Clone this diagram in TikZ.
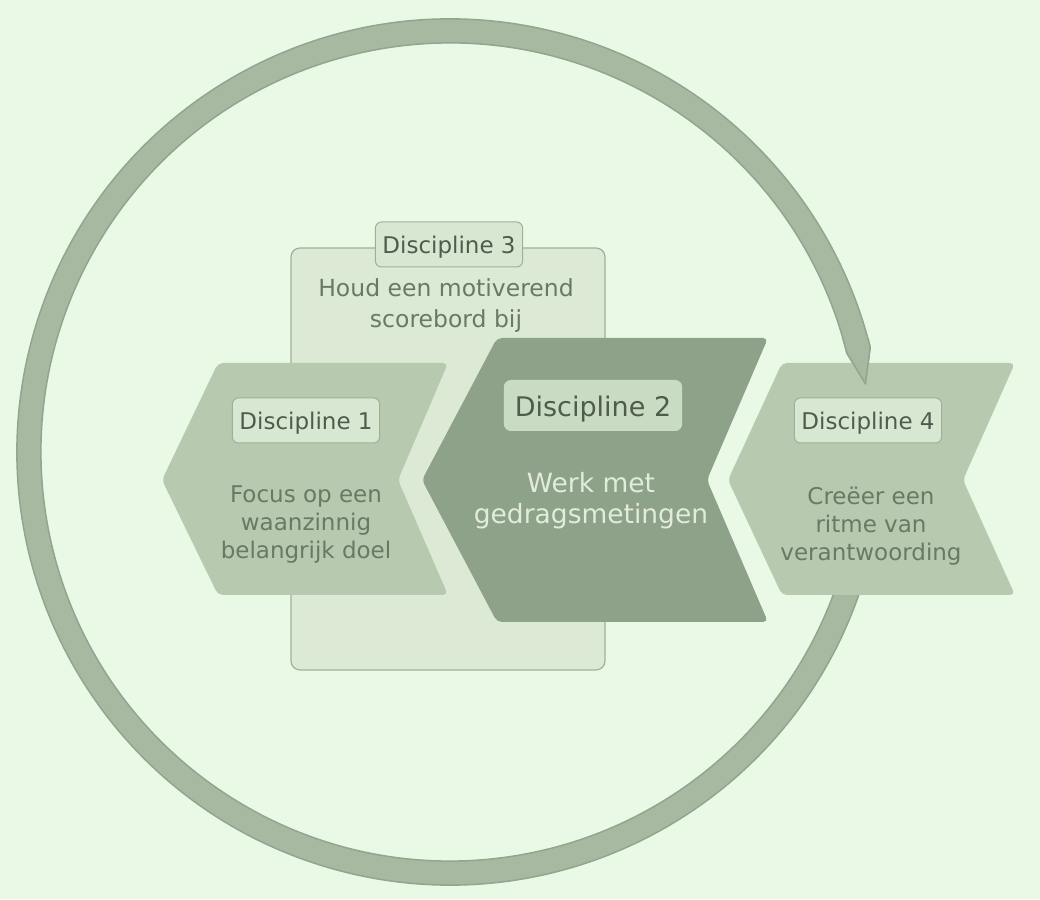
\documentclass[tikz,border=0pt]{standalone}
\usepackage{fontspec}
\setmainfont{DejaVu Sans}
\definecolor{bg}{HTML}{E9F9E6}
\definecolor{chev}{HTML}{B7C9AF}
\definecolor{chevdark}{HTML}{8EA189}
\definecolor{boxfill}{HTML}{DBE9D5}
\definecolor{boxline}{HTML}{A3B09E}
\definecolor{lblfill}{HTML}{D8E7D2}
\definecolor{lblline}{HTML}{A0AE9A}
\definecolor{lbltext}{HTML}{4F5B4C}
\definecolor{bodytext}{HTML}{6A7966}
\definecolor{ringfill}{HTML}{A7B9A1}
\definecolor{ringline}{HTML}{93A58E}
\definecolor{lighttext}{HTML}{E1ECDC}
\definecolor{lbltwofill}{HTML}{CADBC4}
\newcommand\myringpath{([shift={(-17:433)}]450,447) arc[start angle=-17, end angle=-346, radius=433]
  -- (865.5,515.0) -- ([shift={(14:409)}]450,447) arc[start angle=-346, end angle=-17, radius=409] -- cycle}
\tikzset{
  chevlight/.style={fill=chev, rounded corners=5pt},
  chevdk/.style={fill=chevdark, rounded corners=5pt},
  ringstyle/.style={fill=ringfill, draw=ringline, line width=1.5pt, line join=round},
  lbl/.style={draw=lblline, fill=lblfill, rounded corners=6pt, line width=1pt,
    font=\fontsize{23}{28}\selectfont, text=lbltext, inner xsep=7pt, inner ysep=4pt,
    text height=28pt, text depth=9pt, anchor=base},
  lbltwo/.style={fill=lbltwofill, rounded corners=7pt,
    font=\fontsize{27}{32}\selectfont, text=lbltext, inner xsep=11pt, inner ysep=4pt,
    text height=33pt, text depth=10pt, anchor=base},
  body/.style={font=\fontsize{23}{28}\selectfont, text=bodytext, align=center, inner sep=0pt},
}
\begin{document}
\begin{tikzpicture}[x=1pt,y=1pt]
\fill[bg] (0,0) rectangle (1040,899);
\useasboundingbox (0,0) rectangle (1040,899);
% discipline 3 box
\draw[fill=boxfill, draw=boxline, line width=1.2pt, rounded corners=9pt] (291,229) rectangle (605,651);
% discipline 1 chevron
\fill[chevlight] (218,536) -- (448,536) -- (398,419) -- (448,304) -- (218,304) -- (162,419) -- cycle;
% discipline 2 chevron
\fill[chevdk] (497,561) -- (768,561) -- (707,419) -- (768,277) -- (497,277) -- (422,419) -- cycle;
% ring
\path[ringstyle] \myringpath;
% discipline 4 chevron
\fill[chevlight] (782,536) -- (1015,536) -- (963,419) -- (1015,304) -- (782,304) -- (728,419) -- cycle;
% arrow tip of the ring over discipline 4
\begin{scope}
\clip (830,490) rectangle (900,560);
\path[ringstyle] \myringpath;
\end{scope}
% labels
\node[lbl] (l3) at (449,645) {Discipline 3};
\node[lbl] (l1) at (306,469) {Discipline 1};
\node[lbl] (l4) at (868,469) {Discipline 4};
\node[lbltwo] (l2) at (593,482) {Discipline 2};
% body texts
\node[body, font=\fontsize{23.5}{30.5}\selectfont] (t3) at (446,593.7) {Houd een motiverend\\scorebord bij};
\node[body] (t1) at (306,374.5) {Focus op een\\waanzinnig\\belangrijk doel};
\node[body, font=\fontsize{26.5}{31}\selectfont, text=lighttext] (t2) at (591,398.4) {Werk met\\gedragsmetingen};
\node[body] (t4) at (871,373) {Creëer een\\ritme van\\verantwoording};
\end{tikzpicture}
\end{document}
